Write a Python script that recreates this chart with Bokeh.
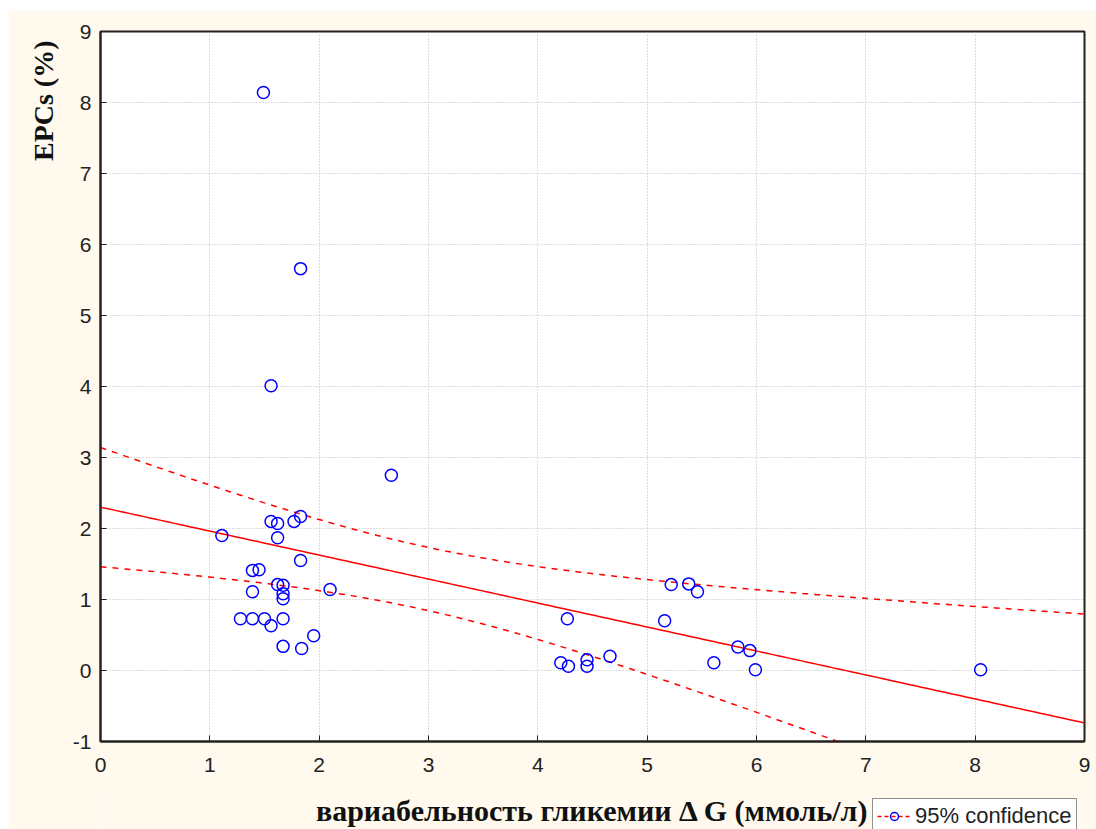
import numpy as np
from bokeh.plotting import figure
from bokeh.layouts import column
from bokeh.models import Label, Legend, LegendItem, FixedTicker, Range1d, Title
from bokeh.embed import file_html
from bokeh.resources import INLINE

# data: glycemic variability (x) vs EPCs % (y)
glyc_var = [1.49, 1.83, 1.56, 2.66, 1.11, 1.56, 1.62, 1.77, 1.83, 1.62, 1.83, 1.39, 1.45, 1.39,
            1.62, 1.67, 1.67, 1.67, 2.10, 1.28, 1.39, 1.50, 1.56, 1.67, 1.95, 1.67, 1.84,
            5.22, 5.38, 5.46, 4.27, 5.16, 5.83, 5.94, 4.21, 4.28, 4.45, 4.45, 4.66, 5.61, 5.99, 8.05]
epcs = [8.14, 5.66, 4.01, 2.75, 1.90, 2.10, 2.07, 2.10, 2.17, 1.87, 1.55, 1.41, 1.42, 1.11,
        1.21, 1.20, 1.08, 1.01, 1.14, 0.73, 0.73, 0.73, 0.63, 0.73, 0.49, 0.34, 0.31,
        1.21, 1.22, 1.11, 0.73, 0.70, 0.33, 0.28, 0.11, 0.06, 0.15, 0.06, 0.20, 0.11, 0.01, 0.01]
x_ticks = [0, 1, 2, 3, 4, 5, 6, 7, 8, 9]
y_ticks = [-1, 0, 1, 2, 3, 4, 5, 6, 7, 8, 9]
x_label = "вариабельность гликемии Δ G (ммоль/л)"
y_label = "EPCs (%)"
legend_label = "95% confidence"

CREAM = "#FFF9EE"

x = np.array(glyc_var)
y = np.array(epcs)
n = len(x)
b, a = np.polyfit(x, y, 1)
resid = y - (a + b * x)
s = np.sqrt(np.sum(resid ** 2) / (n - 2))
t_val = 2.021
xs = np.linspace(0, 9, 200)
ys = a + b * xs
se = s * np.sqrt(1.0 / n + (xs - x.mean()) ** 2 / np.sum((x - x.mean()) ** 2))
upper = ys + t_val * se
lower = ys - t_val * se

p = figure(width=1088, height=782, output_backend="svg", toolbar_location=None,
           x_range=Range1d(0, 9), y_range=Range1d(-1, 9),
           min_border_left=92, min_border_right=12, min_border_top=21, min_border_bottom=51,
           margin=(10, 0, 0, 8))
p.background_fill_color = "white"
p.border_fill_color = CREAM
p.outline_line_color = "#222222"
p.outline_line_width = 2

for ax in (p.xaxis[0], p.yaxis[0]):
    ax.major_tick_in = 6
    ax.major_tick_out = 0
    ax.minor_tick_line_color = None
    ax.axis_line_color = "#222222"
    ax.axis_line_width = 2
    ax.major_tick_line_color = "#222222"
    ax.major_label_text_font = "Liberation Sans"
    ax.major_label_text_font_size = "21px"
    ax.major_label_text_color = "#222222"

p.xaxis.ticker = FixedTicker(ticks=x_ticks)
p.yaxis.ticker = FixedTicker(ticks=y_ticks)
p.yaxis.major_label_overrides = {t: str(t) for t in y_ticks}
p.xaxis.major_label_standoff = 16
p.yaxis.major_label_standoff = 9

p.grid.grid_line_color = "#BBBBBB"
p.grid.grid_line_dash = "1 2"
p.grid.grid_line_width = 1

p.add_layout(Title(text=y_label, align="right", offset=9, standoff=21,
                   text_font="Liberation Serif", text_font_style="bold",
                   text_font_size="28px", text_color="#111111"), "left")

p.line(xs, upper, line_color="red", line_width=1.5, line_dash="6 6")
p.line(xs, lower, line_color="red", line_width=1.5, line_dash="6 6")
p.line(xs, ys, line_color="red", line_width=1.5)
p.scatter(glyc_var, epcs, marker="circle", size=12, fill_color=None,
          line_color="blue", line_width=1.5)

# bottom strip: x axis title + legend box (its frame is aligned with the main frame)
FW, H = 984, 38
q = figure(width=1088, height=H, output_backend="svg", toolbar_location=None,
           x_range=Range1d(0, FW), y_range=Range1d(0, H),
           x_axis_location=None, y_axis_location=None,
           min_border_left=92, min_border_right=12, min_border_top=0, min_border_bottom=0,
           margin=(-1, 0, 0, 8))
q.grid.visible = False
q.outline_line_color = None
q.background_fill_color = CREAM
q.border_fill_color = CREAM

q.add_layout(Label(x=FW / 2, y=19, text=x_label, text_align="center", text_baseline="middle",
                   text_font="Liberation Serif", text_font_style="bold",
                   text_font_size="30px", text_color="#111111"))

lg_line = q.line([np.nan], [np.nan], line_color="red", line_width=1.5, line_dash="4 3")
lg_pts = q.scatter([np.nan], [np.nan], marker="circle", size=12, fill_color=None,
                   line_color="blue", line_width=1.5)
legend = Legend(items=[LegendItem(label=legend_label, renderers=[lg_line, lg_pts])],
                location=(772, -5), orientation="horizontal",
                label_text_font="Liberation Sans", label_text_font_size="22px",
                label_text_color="#222222",
                border_line_color="#222222", border_line_width=1.5,
                background_fill_color="white", background_fill_alpha=1.0,
                padding=4, spacing=0, margin=0, glyph_width=34, label_standoff=4)
q.add_layout(legend)

open("out.html", "w").write(file_html(column(p, q, spacing=0), INLINE))
